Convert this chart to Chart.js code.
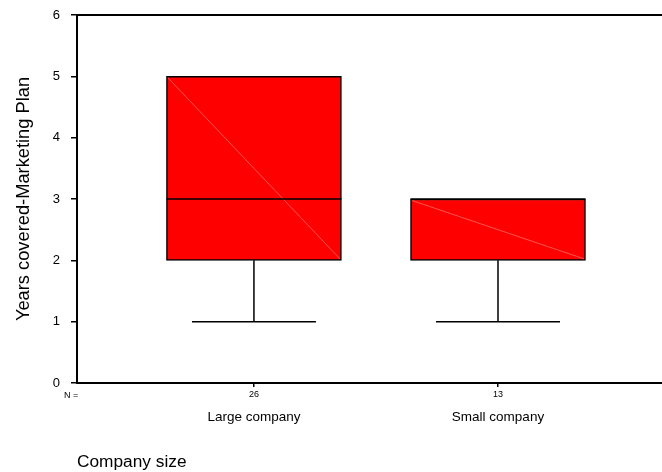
<!DOCTYPE html>
<html>
<head>
<meta charset="utf-8">
<script src="https://cdn.jsdelivr.net/npm/chart.js@4/dist/chart.umd.min.js"></script>
<style>
  html, body { margin: 0; padding: 0; background: #fff; }
  #wrap { width: 662px; height: 472px; }
</style>
</head>
<body>
<div id="wrap"><canvas id="c" width="662" height="472"></canvas></div>
<script>
// ---- data ----
const categories = ['Large company', 'Small company'];
const nCounts    = [26, 13];
const minVals    = [1, 1];
const q1Vals     = [2, 2];
const medianVals = [3, 3];
const q3Vals     = [5, 3];
const maxVals    = [5, 3];
const yTicks     = [0, 1, 2, 3, 4, 5, 6];
const catPos     = [1, 2];

const FONT = "'Liberation Sans', Arial, Helvetica, sans-serif";
Chart.defaults.font.family = FONT;
Chart.defaults.color = '#000';

const setCatTicks = s => { s.ticks = catPos.map(v => ({ value: v })); };

const boxPlugin = {
  id: 'boxExtras',
  afterDatasetsDraw(chart) {
    const { ctx, scales, chartArea } = chart;
    const x = scales.x, y = scales.y;
    const meta = chart.getDatasetMeta(0);
    ctx.save();
    meta.data.forEach((bar, i) => {
      const left = bar.x - bar.width / 2, right = bar.x + bar.width / 2;
      const top = y.getPixelForValue(q3Vals[i]);
      const bot = y.getPixelForValue(q1Vals[i]);
      // faint diagonal artifact
      ctx.strokeStyle = 'rgba(255,150,150,0.8)';
      ctx.lineWidth = 0.7;
      ctx.beginPath();
      ctx.moveTo(left + 1.5, top + 1.5);
      ctx.lineTo(right - 1.5, bot - 1.5);
      ctx.stroke();
      // median
      const med = y.getPixelForValue(medianVals[i]);
      ctx.strokeStyle = '#000';
      ctx.lineWidth = 1.5;
      ctx.beginPath();
      ctx.moveTo(left, med); ctx.lineTo(right, med);
      ctx.stroke();
      // whiskers
      const cx = x.getPixelForValue(catPos[i]);
      const capL = x.getPixelForValue(catPos[i] - 0.254);
      const capR = x.getPixelForValue(catPos[i] + 0.254);
      const pMin = y.getPixelForValue(minVals[i]);
      const pMax = y.getPixelForValue(maxVals[i]);
      ctx.beginPath();
      ctx.moveTo(cx, bot); ctx.lineTo(cx, pMin);
      ctx.moveTo(capL, pMin); ctx.lineTo(capR, pMin);
      if (pMax < top) {
        ctx.moveTo(cx, top); ctx.lineTo(cx, pMax);
        ctx.moveTo(capL, pMax); ctx.lineTo(capR, pMax);
      }
      ctx.stroke();
    });
    // top frame line
    ctx.strokeStyle = '#000';
    ctx.lineWidth = 2;
    ctx.beginPath();
    ctx.moveTo(chartArea.left, chartArea.top);
    ctx.lineTo(chart.width, chartArea.top);
    ctx.stroke();
    // "N =" label
    ctx.fillStyle = '#000';
    ctx.font = '9px ' + FONT;
    ctx.textAlign = 'left';
    ctx.textBaseline = 'middle';
    ctx.fillText('N =', chartArea.left - 13, chartArea.bottom + 13);
    ctx.restore();
  }
};

new Chart(document.getElementById('c'), {
  type: 'bar',
  data: {
    datasets: [{
      data: catPos.map((p, i) => ({ x: p, y: [q1Vals[i], q3Vals[i]] })),
      backgroundColor: '#ff0000',
      borderColor: '#000',
      borderWidth: 1.5,
      borderSkipped: false,
      barThickness: 175,
      xAxisID: 'x',
      yAxisID: 'y'
    }]
  },
  options: {
    responsive: false,
    devicePixelRatio: 1,
    animation: false,
    layout: { padding: { top: 15, right: 0, bottom: 0, left: 0 } },
    plugins: { legend: { display: false }, tooltip: { enabled: false } },
    scales: {
      x: {
        type: 'linear', position: 'bottom', weight: 0, offset: false,
        min: 0.275, max: 2.672,
        afterBuildTicks: setCatTicks,
        afterFit: s => { s.height = 20; s.paddingLeft = 0; s.paddingRight = 0; },
        ticks: { callback: (v, i) => String(nCounts[i]), font: { size: 9 }, padding: 2, maxRotation: 0, autoSkip: false },
        grid: { offset: false, drawOnChartArea: false, drawTicks: true, tickLength: 4, color: '#000', lineWidth: 1.5 },
        border: { color: '#000', width: 2 }
      },
      x2: {
        type: 'linear', position: 'bottom', weight: 1, offset: false,
        min: 0.275, max: 2.672,
        afterBuildTicks: setCatTicks,
        afterFit: s => { s.height = 69; s.paddingLeft = 0; s.paddingRight = 0; },
        ticks: { callback: (v, i) => categories[i], font: { size: 13.5 }, padding: 6, maxRotation: 0, autoSkip: false },
        grid: { offset: false, display: false, drawTicks: false },
        border: { display: false },
        title: { display: true, text: 'Company size', align: 'start', font: { size: 17.3, lineHeight: 1.05 }, padding: { top: 0, bottom: 1 } }
      },
      y: {
        type: 'linear', position: 'left',
        min: 0, max: 6,
        afterBuildTicks: s => { s.ticks = yTicks.map(v => ({ value: v })); },
        afterFit: s => { s.width = 77; s.paddingTop = 0; s.paddingBottom = 0; },
        ticks: { font: { size: 13 }, padding: 11 },
        grid: { drawOnChartArea: false, tickLength: 6, color: '#000', lineWidth: 1.5 },
        border: { color: '#000', width: 2 },
        title: { display: true, text: 'Years covered-Marketing Plan', font: { size: 18.3 }, padding: { top: 13, bottom: 0 } }
      }
    }
  },
  plugins: [boxPlugin]
});
</script>
</body>
</html>
